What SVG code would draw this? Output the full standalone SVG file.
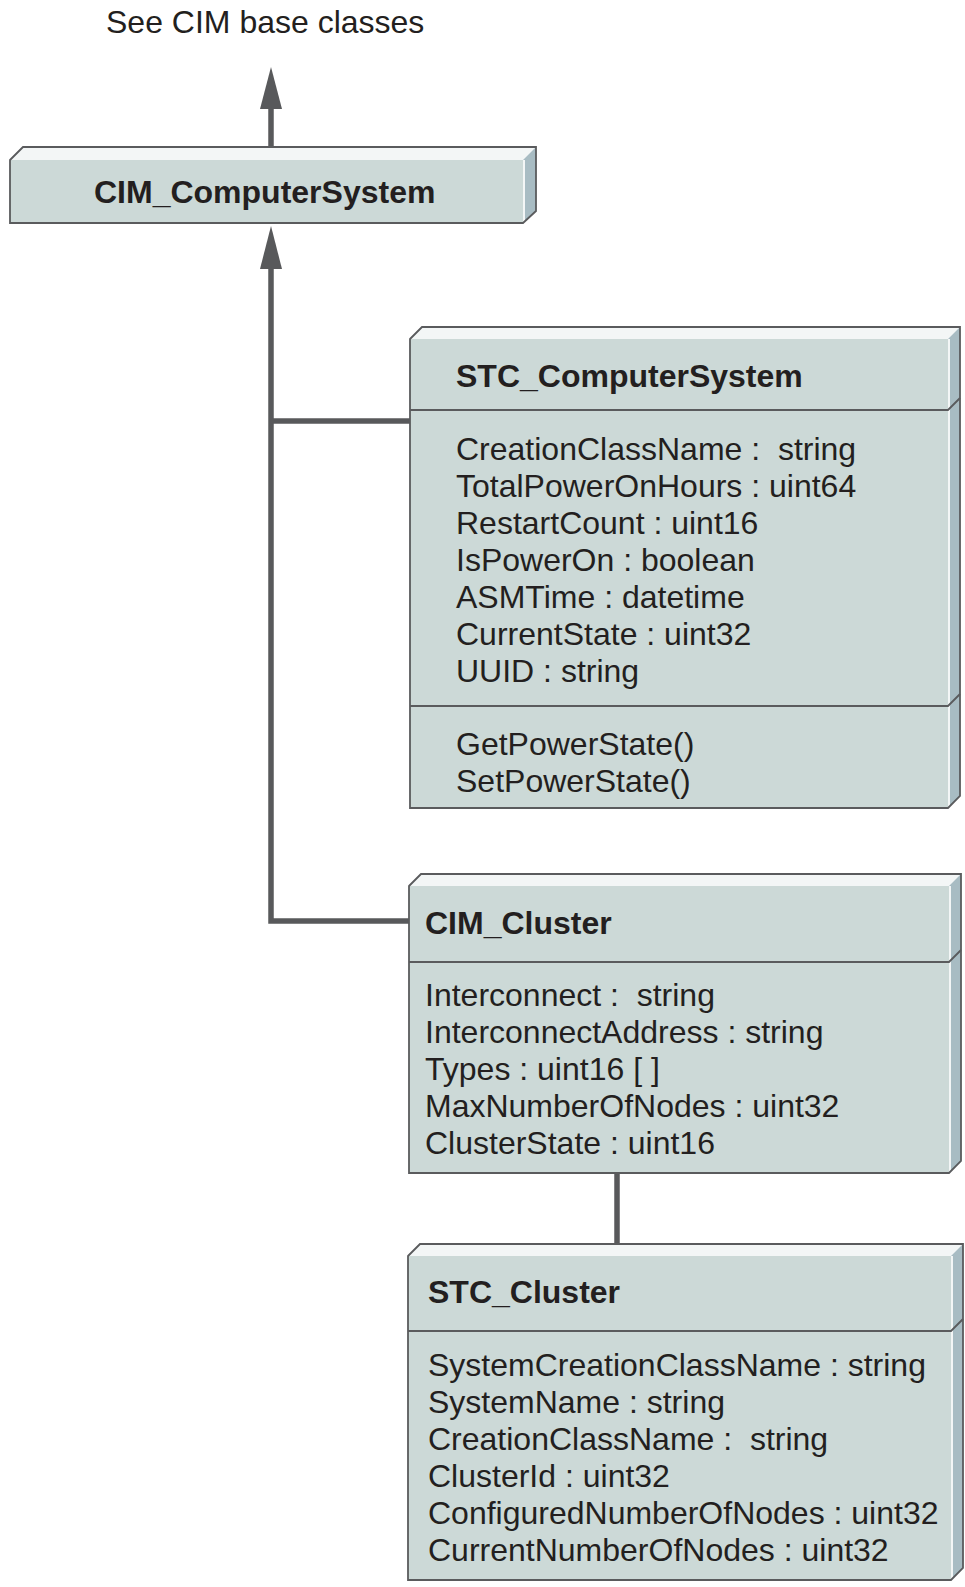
<svg xmlns="http://www.w3.org/2000/svg" width="965" height="1587" viewBox="0 0 965 1587">
  <style>
    .front { fill: #ccd9d7; }
    .top { fill: #f3f6f6; }
    .side { fill: #a8bcc3; }
    .hl { stroke: #f3f6f6; stroke-width: 2; fill: none; }
    .edge { fill: none; stroke: #5a5b5d; stroke-width: 1.8; stroke-linejoin: miter; }
    .div { fill: none; stroke: #5a5b5d; stroke-width: 1.8; }
    .conn { fill: none; stroke: #58595b; stroke-width: 5.5; }
    .head { fill: #58595b; }
    text { font-family: "Liberation Sans", Arial, Helvetica, sans-serif; font-size: 32px; fill: #231f20; white-space: pre; }
    .title { font-weight: bold; }
  </style>

  <text x="106" y="33">See CIM base classes</text>

  <!-- generalization connectors -->
  <g id="connectors">
    <path class="conn" d="M271 147 V106"/>
    <polygon class="head" points="271,67 260,109 282,109"/>
    <path class="conn" d="M271 266 V921 H409"/>
    <path class="conn" d="M271 421 H411"/>
    <polygon class="head" points="271,226 260,269 282,269"/>
    <path class="conn" d="M617 1173 V1244"/>
  </g>

  <!-- CIM_ComputerSystem -->
  <g id="cim-computersystem">
    <rect class="front" x="10" y="160" width="513" height="63"/>
    <polygon class="top" points="10,160 23,147 536,147 523,160"/>
    <polygon class="side" points="523,160 536,147 536,211 523,223"/>
    <path class="hl" d="M524 160 V223"/>
    <path class="edge" d="M10 160 L23 147 H536 V211 L523 223 H10 Z"/>
    <text class="title" x="94" y="203">CIM_ComputerSystem</text>
  </g>

  <!-- STC_ComputerSystem -->
  <g id="stc-computersystem">
    <rect class="front" x="410" y="339" width="538" height="469"/>
    <polygon class="top" points="410,339 422,327 960,327 948,339"/>
    <polygon class="side" points="948,339 960,327 960,796 948,808"/>
    <path class="hl" d="M949 339 V808"/>
    <path class="edge" d="M410 339 L422 327 H960 V796 L948 808 H410 Z"/>
    <path class="div" d="M410 410 H948 L960 398"/>
    <path class="div" d="M410 706 H948 L960 694"/>
    <text class="title" x="456" y="387">STC_ComputerSystem</text>
    <text x="456" y="460">CreationClassName :  string</text>
    <text x="456" y="497">TotalPowerOnHours : uint64</text>
    <text x="456" y="534">RestartCount : uint16</text>
    <text x="456" y="571">IsPowerOn : boolean</text>
    <text x="456" y="608">ASMTime : datetime</text>
    <text x="456" y="645">CurrentState : uint32</text>
    <text x="456" y="682">UUID : string</text>
    <text x="456" y="755">GetPowerState()</text>
    <text x="456" y="792">SetPowerState()</text>
  </g>

  <!-- CIM_Cluster -->
  <g id="cim-cluster">
    <rect class="front" x="409" y="886" width="540" height="287"/>
    <polygon class="top" points="409,886 421,874 961,874 949,886"/>
    <polygon class="side" points="949,886 961,874 961,1161 949,1173"/>
    <path class="hl" d="M950 886 V1173"/>
    <path class="edge" d="M409 886 L421 874 H961 V1161 L949 1173 H409 Z"/>
    <path class="div" d="M409 962 H949 L961 950"/>
    <text class="title" x="425" y="934">CIM_Cluster</text>
    <text x="425" y="1006">Interconnect :  string</text>
    <text x="425" y="1043">InterconnectAddress : string</text>
    <text x="425" y="1080">Types : uint16 [ ]</text>
    <text x="425" y="1117">MaxNumberOfNodes : uint32</text>
    <text x="425" y="1154">ClusterState : uint16</text>
  </g>

  <!-- STC_Cluster -->
  <g id="stc-cluster">
    <rect class="front" x="408" y="1256" width="543" height="324"/>
    <polygon class="top" points="408,1256 420,1244 963,1244 951,1256"/>
    <polygon class="side" points="951,1256 963,1244 963,1568 951,1580"/>
    <path class="hl" d="M952 1256 V1580"/>
    <path class="edge" d="M408 1256 L420 1244 H963 V1568 L951 1580 H408 Z"/>
    <path class="div" d="M408 1331 H951 L963 1319"/>
    <text class="title" x="428" y="1303">STC_Cluster</text>
    <text x="428" y="1376">SystemCreationClassName : string</text>
    <text x="428" y="1413">SystemName : string</text>
    <text x="428" y="1450">CreationClassName :  string</text>
    <text x="428" y="1487">ClusterId : uint32</text>
    <text x="428" y="1524">ConfiguredNumberOfNodes : uint32</text>
    <text x="428" y="1561">CurrentNumberOfNodes : uint32</text>
  </g>
</svg>
